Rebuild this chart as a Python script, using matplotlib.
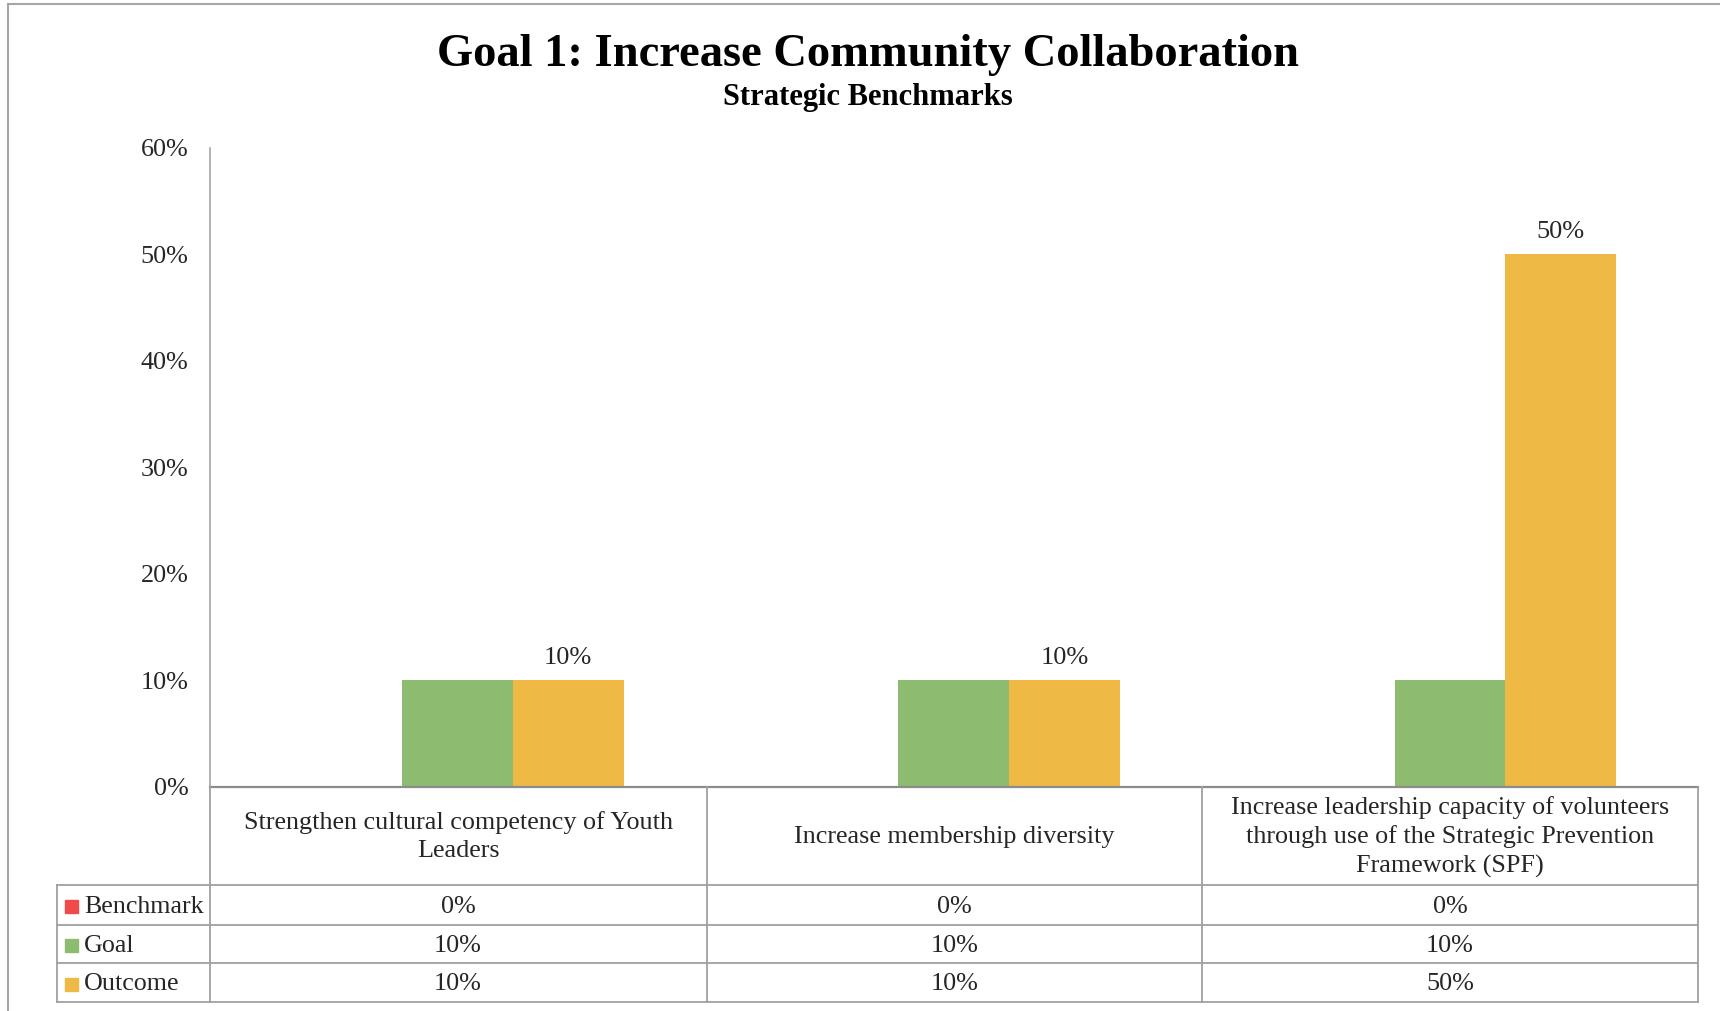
import matplotlib.pyplot as plt
from matplotlib.lines import Line2D
from matplotlib.patches import Rectangle
import numpy as np

plt.rcParams['font.family'] = ['Liberation Serif', 'DejaVu Serif']

categories = [
    "Strengthen cultural competency of Youth\nLeaders",
    "Increase membership diversity",
    "Increase leadership capacity of volunteers\nthrough use of the Strategic Prevention\nFramework (SPF)",
]
series_names = ["Benchmark", "Goal", "Outcome"]
benchmark = [0.0, 0.0, 0.0]
goal = [0.10, 0.10, 0.10]
outcome = [0.10, 0.10, 0.50]
series_colors = ["#EF4B4B", "#8DBB6F", "#EEB944"]
y_ticks = [0.0, 0.1, 0.2, 0.3, 0.4, 0.5, 0.6]

W, H = 1720, 1011
fig = plt.figure(figsize=(W / 100, H / 100), dpi=100)


def fx(px):
    return px / W


def fy(py):
    return 1 - py / H


# plot area in pixel terms
left, right, top, base = 209.5, 1698, 148, 786.5
ax = fig.add_axes([fx(left), fy(base), fx(right - left), fy(top) - fy(base)])

x = np.arange(len(categories))
bw = 0.223
all_series = [benchmark, goal, outcome]
for i, (vals, col) in enumerate(zip(all_series, series_colors)):
    bars = ax.bar(x + (i - 1) * bw, vals, bw, color=col, linewidth=0, zorder=2)
    if series_names[i] == "Outcome":
        for b, v in zip(bars, vals):
            ax.annotate(f"{v:.0%}", (b.get_x() + b.get_width() / 2, v),
                        xytext=(0, 8), textcoords="offset points",
                        ha="center", va="bottom", fontsize=19, color="#262626")

ax.set_xlim(-0.5, len(categories) - 0.5)
ax.set_ylim(0, 0.6)
ax.set_yticks(y_ticks)
ax.set_yticklabels([f"{t:.0%}" for t in y_ticks], fontsize=18.8, color="#262626")
ax.tick_params(axis="y", length=0, pad=15)
ax.set_xticks([])
for s in ["top", "right", "bottom"]:
    ax.spines[s].set_visible(False)
ax.spines["left"].set_color("#A6A6A6")
ax.spines["left"].set_linewidth(1.2)

# data table under the plot
grid_col = "#A0A0A0"
row_lines = [885, 924.8, 963, 1001.5]
col_lines = [left, 706.5, 1202, right]
legend_left = 57


def hline(y, x0, x1, color=grid_col, lw=1.3):
    fig.add_artist(Line2D([fx(x0), fx(x1)], [fy(y), fy(y)], color=color, lw=lw))


def vline(xp, y0, y1):
    fig.add_artist(Line2D([fx(xp), fx(xp)], [fy(y0), fy(y1)], color=grid_col, lw=1.3))


hline(base, left, right, color="#8C8C8C", lw=1.6)
for y in row_lines:
    hline(y, legend_left, right)
for xp in col_lines:
    vline(xp, base, row_lines[-1])
vline(legend_left, row_lines[0], row_lines[-1])

for j, cat in enumerate(categories):
    cx = (col_lines[j] + col_lines[j + 1]) / 2
    fig.text(fx(cx), fy((base + row_lines[0]) / 2 + 1), cat, ha="center", va="center",
             fontsize=18.8, color="#262626", linespacing=1.37)

for i, (name, vals, col) in enumerate(zip(series_names, all_series, series_colors)):
    cy = (row_lines[i] + row_lines[i + 1]) / 2 + 2
    fig.add_artist(Rectangle((fx(65), fy(cy + 6.5)), fx(13), fy(0) - fy(13),
                             color=col, transform=fig.transFigure))
    fig.text(fx(84), fy(cy), name, ha="left", va="center", fontsize=18.7, color="#262626")
    for j, v in enumerate(vals):
        cx = (col_lines[j] + col_lines[j + 1]) / 2
        fig.text(fx(cx), fy(cy), f"{v:.0%}", ha="center", va="center",
                 fontsize=18.8, color="#262626")

# titles
fig.text(fx(868), fy(55), "Goal 1: Increase Community Collaboration",
         ha="center", va="center", fontsize=33.5, fontweight="bold", color="black")
fig.text(fx(868), fy(98), "Strategic Benchmarks",
         ha="center", va="center", fontsize=22, fontweight="bold", color="black")

# frame edges along top and left
fig.add_artist(Line2D([fx(8), 1], [fy(4), fy(4)], color="#A6A6A6", lw=1.5))
fig.add_artist(Line2D([fx(8), fx(8)], [fy(4), 0], color="#A6A6A6", lw=1.5))

fig.savefig("out.png", dpi=100, facecolor="white")
